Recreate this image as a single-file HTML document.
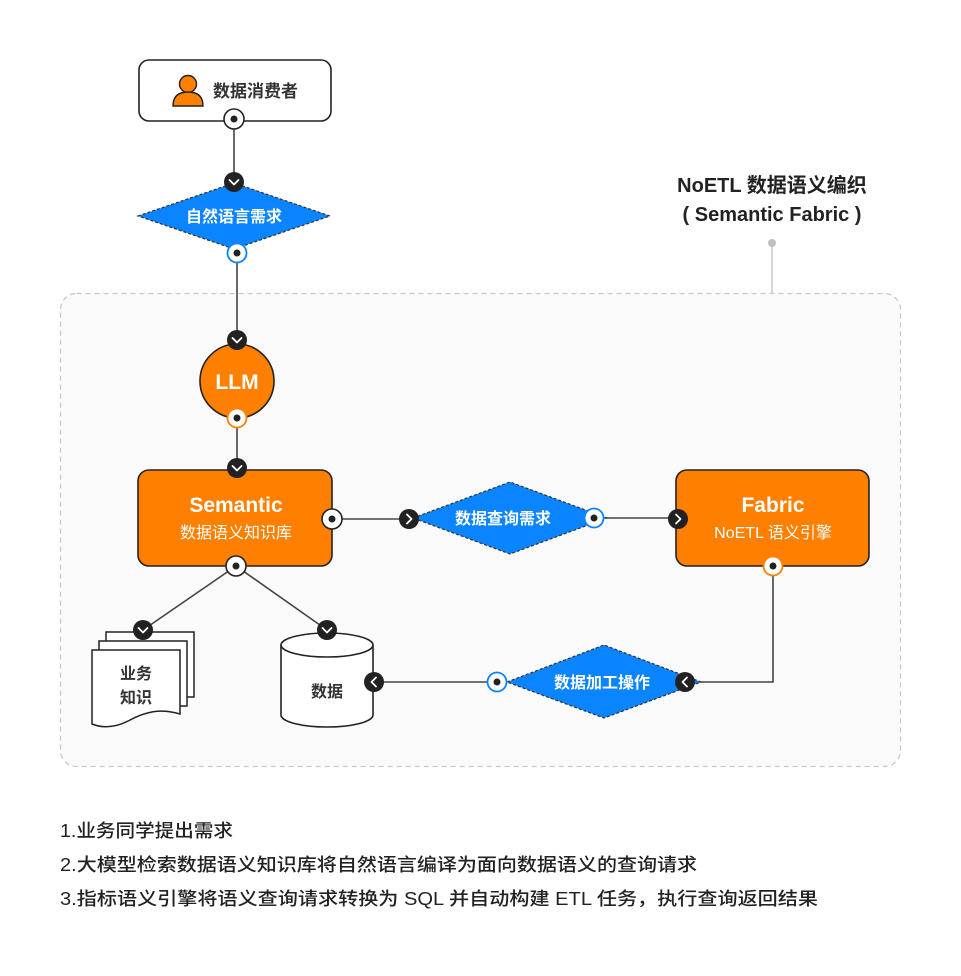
<!DOCTYPE html>
<html><head><meta charset="utf-8"><style>
html,body{margin:0;padding:0;background:#fff;}
svg{display:block;}
text{font-family:"Liberation Sans","Noto Sans CJK SC",sans-serif;}
</style></head><body>
<svg width="961" height="976" viewBox="0 0 961 976" xmlns="http://www.w3.org/2000/svg">
<defs>
<g id="chd"><circle r="10" fill="#222"/><path d="M-4.5,-2 L0,2.5 L4.5,-2" fill="none" stroke="#fff" stroke-width="1.8" stroke-linecap="round" stroke-linejoin="round"/></g>
<g id="chr"><circle r="10" fill="#222"/><path d="M-2,-4.5 L2.5,0 L-2,4.5" fill="none" stroke="#fff" stroke-width="1.8" stroke-linecap="round" stroke-linejoin="round"/></g>
<g id="chl"><circle r="10" fill="#222"/><path d="M2,-4.5 L-2.5,0 L2,4.5" fill="none" stroke="#fff" stroke-width="1.8" stroke-linecap="round" stroke-linejoin="round"/></g>
</defs>
<rect x="60.5" y="293.5" width="840" height="473" rx="16" fill="#fafafa" stroke="#c8c8c8" stroke-width="1.3" stroke-dasharray="5,4"/>
<line x1="772" y1="243" x2="772" y2="293" stroke="#c8c8c8" stroke-width="1.5"/>
<circle cx="772" cy="243" r="4" fill="#c0c0c0"/>
<text x="772" y="192" font-size="20" font-weight="700" fill="#222" text-anchor="middle">NoETL 数据语义编织</text>
<text x="772" y="221" font-size="20" font-weight="700" fill="#222" text-anchor="middle">( Semantic Fabric )</text>

<g stroke="#444" stroke-width="1.6" fill="none">
<line x1="234" y1="120" x2="234" y2="182"/>
<line x1="237" y1="253" x2="237" y2="340"/>
<line x1="237" y1="418" x2="237" y2="468"/>
<line x1="332" y1="519" x2="409" y2="519"/>
<line x1="594" y1="518" x2="678" y2="518"/>
<polyline points="773,566 773,682 685,682"/>
<line x1="497" y1="682" x2="374" y2="682"/>
<line x1="236" y1="566" x2="143" y2="630"/>
<line x1="236" y1="566" x2="327" y2="630"/>
</g>

<rect x="139" y="60" width="192" height="61" rx="10" fill="#fff" stroke="#222" stroke-width="1.6"/>
<circle cx="188" cy="84" r="8.5" fill="#FF7F00" stroke="#222" stroke-width="1.4"/>
<path d="M173,106 C173,96 179,92 188,92 C197,92 203,96 203,106 Z" fill="#FF7F00" stroke="#222" stroke-width="1.4"/>
<text x="213" y="97" font-size="17" font-weight="700" fill="#333">数据消费者</text>
<circle cx="234" cy="119" r="10" fill="#fff" stroke="#222" stroke-width="1.6"/><circle cx="234" cy="119" r="3.5" fill="#222"/>

<polygon points="138,216 234,183 330,216 234,249" fill="#0A84FF" stroke="#333" stroke-width="1.2" stroke-dasharray="3,2"/>
<text x="234" y="222" font-size="16" font-weight="700" fill="#fff" text-anchor="middle">自然语言需求</text>
<use href="#chd" x="234" y="182"/>
<circle cx="237" cy="253" r="9.5" fill="#fff" stroke="#0A84FF" stroke-width="1.8"/><circle cx="237" cy="253" r="3.5" fill="#222"/>

<circle cx="237" cy="381" r="37" fill="#FF7F00" stroke="#222" stroke-width="1.6"/>
<text x="237" y="389" font-size="21" font-weight="700" fill="#fff" text-anchor="middle">LLM</text>
<use href="#chd" x="237" y="340"/>
<circle cx="237" cy="418" r="9.5" fill="#fff" stroke="#FF7F00" stroke-width="1.8"/><circle cx="237" cy="418" r="3.5" fill="#222"/>

<rect x="138" y="470" width="194" height="96" rx="11" fill="#FF7F00" stroke="#222" stroke-width="1.6"/>
<text x="236" y="512" font-size="21" font-weight="700" fill="#fff" text-anchor="middle">Semantic</text>
<text x="236" y="538" font-size="16" fill="#fff" text-anchor="middle">数据语义知识库</text>
<use href="#chd" x="237" y="468"/>
<circle cx="332" cy="519" r="10" fill="#fff" stroke="#222" stroke-width="1.6"/><circle cx="332" cy="519" r="3.5" fill="#222"/>
<circle cx="236" cy="566" r="10" fill="#fff" stroke="#222" stroke-width="1.6"/><circle cx="236" cy="566" r="3.5" fill="#222"/>

<polygon points="413,518 510,482 607,518 510,554" fill="#0A84FF" stroke="#333" stroke-width="1.2" stroke-dasharray="3,2"/>
<text x="503" y="524" font-size="16" font-weight="700" fill="#fff" text-anchor="middle">数据查询需求</text>
<use href="#chr" x="409" y="519"/>
<circle cx="594" cy="518" r="9.5" fill="#fff" stroke="#0A84FF" stroke-width="1.8"/><circle cx="594" cy="518" r="3.5" fill="#222"/>

<rect x="676" y="470" width="193" height="96" rx="11" fill="#FF7F00" stroke="#222" stroke-width="1.6"/>
<text x="773" y="512" font-size="21" font-weight="700" fill="#fff" text-anchor="middle">Fabric</text>
<text x="773" y="538" font-size="16" fill="#fff" text-anchor="middle">NoETL 语义引擎</text>
<use href="#chr" x="678" y="519"/>
<circle cx="773" cy="566" r="9.5" fill="#fff" stroke="#FF7F00" stroke-width="1.8"/><circle cx="773" cy="566" r="3.5" fill="#222"/>

<polygon points="507,682 604,645 701,682 604,718" fill="#0A84FF" stroke="#333" stroke-width="1.2" stroke-dasharray="3,2"/>
<text x="602" y="688" font-size="16" font-weight="700" fill="#fff" text-anchor="middle">数据加工操作</text>
<use href="#chl" x="685" y="682"/>
<circle cx="497" cy="682" r="9.5" fill="#fff" stroke="#0A84FF" stroke-width="1.8"/><circle cx="497" cy="682" r="3.5" fill="#222"/>

<path d="M281,645 L281,715 A46,12 0 0 0 373,715 L373,645" fill="#fff" stroke="#222" stroke-width="1.6"/>
<ellipse cx="327" cy="645" rx="46" ry="12" fill="#fff" stroke="#222" stroke-width="1.6"/>
<text x="327" y="697" font-size="16" font-weight="700" fill="#333" text-anchor="middle">数据</text>
<use href="#chd" x="327" y="630"/>
<use href="#chl" x="374" y="682"/>

<rect x="106" y="632" width="88" height="65" fill="#fff" stroke="#222" stroke-width="1.5"/>
<rect x="99" y="641" width="88" height="65" fill="#fff" stroke="#222" stroke-width="1.5"/>
<path d="M92,650 L180,650 L180,714 C160,708 145,712 130,720 C115,728 102,728 92,724 Z" fill="#fff" stroke="#222" stroke-width="1.5"/>
<text x="136" y="679" font-size="16" font-weight="700" fill="#333" text-anchor="middle">业务</text>
<text x="136" y="703" font-size="16" font-weight="700" fill="#333" text-anchor="middle">知识</text>
<use href="#chd" x="143" y="630"/>

<text x="60" y="837" font-size="18" font-weight="500" fill="#222" textLength="173" lengthAdjust="spacingAndGlyphs">1.业务同学提出需求</text>
<text x="60" y="871" font-size="18" font-weight="500" fill="#222" textLength="637" lengthAdjust="spacingAndGlyphs">2.大模型检索数据语义知识库将自然语言编译为面向数据语义的查询请求</text>
<text x="60" y="905" font-size="18" font-weight="500" fill="#222" textLength="758" lengthAdjust="spacingAndGlyphs">3.指标语义引擎将语义查询请求转换为 SQL 并自动构建 ETL 任务，执行查询返回结果</text>
</svg>
</body></html>
